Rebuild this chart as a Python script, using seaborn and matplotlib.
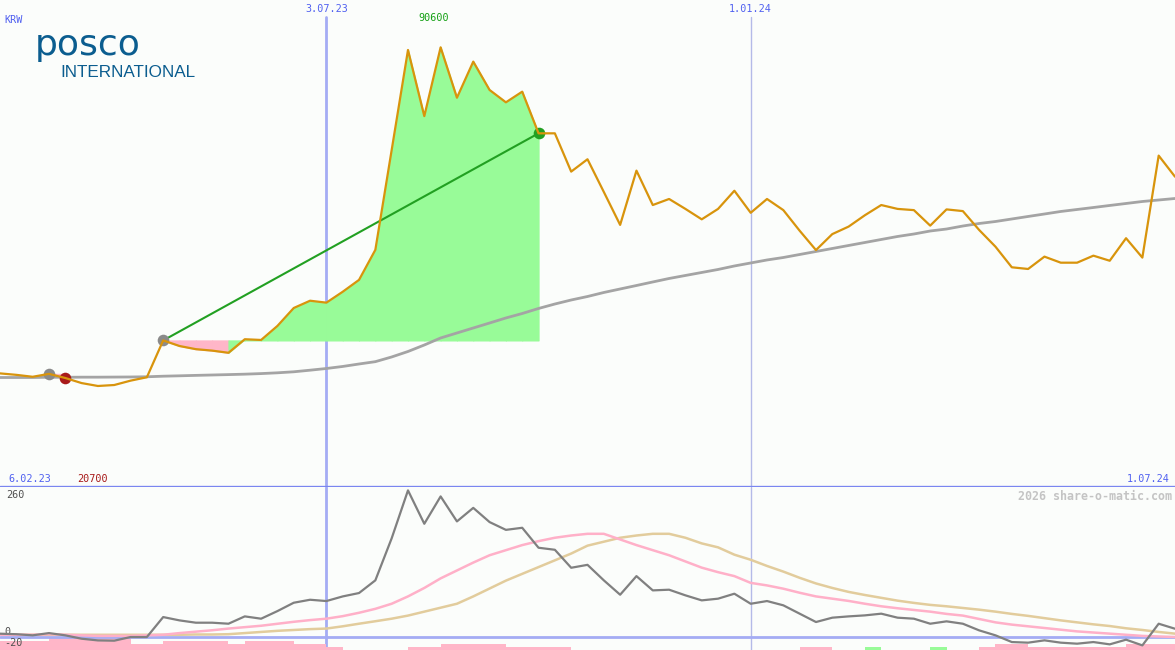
import numpy as np
import pandas as pd
import matplotlib
matplotlib.use("Agg")
import matplotlib.pyplot as plt
import seaborn as sns

# ---------------- data (weekly) ----------------
price = [23300, 23000, 22600, 23200, 22350, 21300, 20700, 20900, 21800, 22500,
         30100, 28950, 28300, 28000, 27550, 30350, 30200, 33100, 36800, 38300,
         37900, 40150, 42600, 48800, 69400, 90050, 76400, 90600, 80200, 87650,
         81800, 79250, 81450, 72850, 72850, 64950, 67500, 60750, 53950, 65150,
         58050, 59300, 57250, 55100, 57250, 61000, 56450, 59300, 57000, 52750,
         48750, 52050, 53600, 55950, 58050, 57250, 57000, 53800, 57150, 56800,
         52900, 49450, 45200, 44850, 47400, 46150, 46150, 47600, 46550, 51200,
         47200, 68250, 63900]

ma_long = [22450, 22450, 22450, 22500, 22500, 22520, 22520, 22540, 22560, 22600,
           22720, 22800, 22890, 22970, 23050, 23140, 23260, 23420, 23630, 23960,
           24310, 24730, 25240, 25720, 26690, 27820, 29160, 30610, 31640, 32670,
           33700, 34740, 35660, 36700, 37620, 38450, 39170, 40000, 40720, 41440,
           42170, 42890, 43510, 44130, 44750, 45470, 46090, 46710, 47220, 47840,
           48460, 49080, 49700, 50320, 50940, 51560, 52070, 52690, 53100, 53720,
           54240, 54650, 55170, 55690, 56200, 56720, 57130, 57540, 57960, 58370,
           58780, 59090, 59400]

osc = [5.9, 5, 3, 7, 3, -3, -6, -6.5, 0, 0,
       35.4, 29.5, 25.4, 25.4, 23.6, 36.6, 32.5, 46, 60.8, 66.1,
       63.8, 72, 78, 100.5, 175, 260, 200.8, 249.3, 205, 229,
       203.8, 190, 193.7, 158.3, 154.7, 122.8, 128, 100.5, 75, 108,
       82.7, 83.9, 73.9, 65, 68, 76.8, 59, 63.8, 56.2, 41.4,
       26.6, 34.3, 36.6, 38.4, 41.4, 34.3, 32.5, 23.6, 27.8, 23.6,
       11.8, 3, -8.9, -10, -5.9, -10, -11.8, -8.9, -13, -4.7,
       -14.8, 23.6, 14.7]

osc_fast = [4, 4, 4, 5, 4, 3, 2, 2, 2, 3,
            4, 7, 9.5, 12, 15, 17.5, 20, 23.5, 27, 30,
            32.5, 37, 43, 50, 59, 72, 87, 104, 118, 132,
            145, 154, 163, 170, 176, 180, 183, 183, 173, 163,
            154, 145, 134, 123, 115, 108, 96, 91.5, 85.7, 78.5,
            72, 68, 64, 59, 54.5, 51, 48, 45, 41, 38,
            32, 26, 22, 19, 16, 13, 10, 8, 6, 4,
            2, 1, 0]

osc_slow = [4, 4, 4, 4, 4, 4, 4, 4, 4, 4,
            4, 4, 4.5, 4.5, 5, 7, 9, 11, 12.5, 14,
            15, 19, 23.6, 28, 32.5, 38, 45, 52, 59, 72,
            86, 100, 112, 124, 136, 148, 162, 169, 176, 180,
            183, 183, 176, 166, 159, 146, 137, 126, 116, 105,
            95, 87, 80, 74.5, 69.5, 64.5, 60.5, 57, 54.5, 51.5,
            48.5, 45, 41, 37.5, 33.5, 29.5, 26, 22.5, 19.5, 15.5,
            12.5, 9, 6]

bar_level = [3, 3, 3, 4, 4, 4, 4, 4, 2, 2,
             3, 3, 3, 3, 2, 3, 3, 3, 2, 2,
             1, 0, 0, 0, 0, 1, 1, 2, 2, 2,
             2, 1, 1, 1, 1, 0, 0, 0, 0, 0,
             0, 0, 0, 0, 0, 0, 0, 0, 0, 1,
             1, 0, 0, 1, 0, 0, 0, 1, 0, 0,
             1, 2, 2, 1, 1, 1, 1, 1, 1, 2,
             2, 2]
bar_green_weeks = [53, 57]

date_labels = ["6.02.23", "3.07.23", "1.01.24", "1.07.24"]
date_pos = [0, 20, 46, 72]
grid_weeks = [20, 46]
entry_week, exit_week = 10, 33
prev_entry_week, prev_exit_week = 3, 4
currency = "KRW"
osc_labels = [260, 0, -20]
watermark = "2026 share-o-matic.com"

# ---------------- style ----------------
BG = "#fbfdfb"
ORANGE = "#d8940c"
MA_GRAY = "#a4a4a4"
FILL_GREEN = "#98fb98"
FILL_PINK = "#ffb6c8"
LINE_GREEN = "#22a022"
MARK_GRAY = "#8a8a8a"
MARK_RED = "#a81a1a"
BLUE_TXT = "#5060f0"
SEP_BLUE = "#7a86f0"
GRID_BLUE = "#a4acf4"
OSC_GRAY = "#808080"
OSC_PINK = "#ffb0c8"
OSC_TAN = "#e2cc9c"
LOGO_BLUE = "#0b5d8f"

sns.set_theme(style="white")
plt.rcParams["font.family"] = ["DejaVu Sans Mono", "DejaVu Sans"]

weeks = np.arange(len(price))
df = pd.DataFrame({"week": weeks, "price": price, "ma_long": ma_long,
                   "osc": osc, "osc_fast": osc_fast, "osc_slow": osc_slow})

W, H = 1175.0, 650.0
TOP_H, LOW_H = 487.0, 163.0
fig = plt.figure(figsize=(W / 100, H / 100), dpi=100, facecolor=BG)
ax1 = fig.add_axes([0, LOW_H / H, 1, TOP_H / H])
ax2 = fig.add_axes([0, 0, 1, LOW_H / H])

for ax in (ax1, ax2):
    ax.set_facecolor(BG)
    for s in ax.spines.values():
        s.set_visible(False)

ax1.set_ylim(-150, 100370)
ax2.set_ylim(-23, 266)

# ---------------- top panel ----------------
p = np.array(price, dtype=float)
level = p[entry_week]
for i in range(entry_week, exit_week):
    c = FILL_GREEN if p[i + 1] >= level else FILL_PINK
    ax1.fill_between(weeks[i:i + 2], p[i:i + 2], level, facecolor=c,
                     edgecolor=c, lw=0.8, zorder=1)
level0 = p[prev_entry_week]
for i in range(prev_entry_week, prev_exit_week):
    c = FILL_GREEN if p[i + 1] >= level0 else FILL_PINK
    ax1.fill_between(weeks[i:i + 2], p[i:i + 2], level0, facecolor=c,
                     edgecolor=c, lw=0.8, zorder=1)

for gw, lw, col in zip(grid_weeks, [2.0, 1.0], [GRID_BLUE, "#b4bae8"]):
    ax1.axvline(gw, ymin=0, ymax=1 - 17 / TOP_H, color=col, lw=lw, zorder=0.5)
    ax2.axvline(gw, color=col, lw=lw, zorder=0.5)

sns.lineplot(data=df, x="week", y="ma_long", ax=ax1, color=MA_GRAY, lw=2, zorder=2)

trade = pd.DataFrame({"week": [entry_week, exit_week],
                      "price": [p[entry_week], p[exit_week]]})
sns.lineplot(data=trade, x="week", y="price", ax=ax1, color=LINE_GREEN, lw=1.5, zorder=3)

sns.scatterplot(x=[prev_entry_week, entry_week], y=[p[prev_entry_week], p[entry_week]],
                ax=ax1, color=MARK_GRAY, s=70, linewidth=0, zorder=3)
sns.scatterplot(x=[prev_exit_week], y=[p[prev_exit_week]], ax=ax1, color=MARK_RED,
                s=70, linewidth=0, zorder=3)
sns.scatterplot(x=[exit_week], y=[p[exit_week]], ax=ax1, color=LINE_GREEN,
                s=70, linewidth=0, zorder=3)

sns.lineplot(data=df, x="week", y="price", ax=ax1, color=ORANGE, lw=1.6, zorder=4)

# separator line between panels
ax1.axhline(ax1.get_ylim()[0], color=SEP_BLUE, lw=2.4, zorder=6, clip_on=False)

# ---------------- lower panel ----------------
unit = 5.6
bottom = ax2.get_ylim()[0]
lv = np.array(bar_level, dtype=float)
bar_cols = [FILL_GREEN if i in bar_green_weeks else FILL_PINK for i in range(len(lv))]
ax2.bar(weeks[:len(lv)], lv * unit, width=1.0, align="edge", bottom=bottom,
        color=bar_cols, lw=0, zorder=1)
ax2.axhline(0, color=GRID_BLUE, lw=2, zorder=1.5)

sns.lineplot(data=df, x="week", y="osc_slow", ax=ax2, color=OSC_TAN, lw=1.8, zorder=2)
sns.lineplot(data=df, x="week", y="osc_fast", ax=ax2, color=OSC_PINK, lw=1.8, zorder=3)
sns.lineplot(data=df, x="week", y="osc", ax=ax2, color=OSC_GRAY, lw=1.6, zorder=4)

for ax in (ax1, ax2):
    ax.set_xlim(0, len(price) - 1)
    ax.set_xticks([])
    ax.set_yticks([])
    ax.set_xlabel("")
    ax.set_ylabel("")

# ---------------- texts ----------------
FS = 7.3
xt1 = ax1.get_xaxis_transform()
ax1.text(0.004, 1 - 20 / TOP_H, currency, transform=ax1.transAxes, fontsize=FS,
         color=BLUE_TXT, ha="left", va="center")
for lab, pos in zip(date_labels[1:3], date_pos[1:3]):
    ax1.text(pos, 1 - 9 / TOP_H, lab, transform=xt1, fontsize=FS, color=BLUE_TXT,
             ha="center", va="center")
ax1.annotate(date_labels[0], xy=(date_pos[0], 8 / TOP_H), xycoords=xt1,
             xytext=(6, 0), textcoords="offset points", fontsize=FS, color=BLUE_TXT,
             ha="left", va="center")
ax1.annotate(date_labels[-1], xy=(date_pos[-1], 8 / TOP_H), xycoords=xt1,
             xytext=(-4, 0), textcoords="offset points", fontsize=FS, color=BLUE_TXT,
             ha="right", va="center")

imax = int(np.argmax(p))
imin = int(np.argmin(p))
ax1.annotate(f"{int(p[imax])}", xy=(imax, 1 - 18 / TOP_H), xycoords=xt1,
             xytext=(-5, 0), textcoords="offset points", fontsize=FS,
             color="#14a014", ha="center", va="center")
ax1.annotate(f"{int(p[imin])}", xy=(imin, 8 / TOP_H), xycoords=xt1,
             xytext=(-4, 0), textcoords="offset points", fontsize=FS,
             color=MARK_RED, ha="center", va="center")

# logo
ax1.text(35 / W, 1 - 55 / TOP_H, "posco", transform=ax1.transAxes,
         fontsize=26, color=LOGO_BLUE, family="DejaVu Sans", ha="left",
         va="baseline")
ax1.text(60 / W, 1 - 77 / TOP_H, "INTERNATIONAL", transform=ax1.transAxes,
         fontsize=12.3, color=LOGO_BLUE, family="Liberation Sans", ha="left",
         va="baseline")

# oscillator labels
xt2 = ax2.get_yaxis_transform()
ax2.text(0.005, osc_labels[0], str(osc_labels[0]), transform=xt2, fontsize=FS,
         color="#505050", ha="left", va="top")
for v in osc_labels[1:]:
    ax2.text(0.004, v, str(v), transform=xt2, fontsize=FS, color="#505050",
             ha="left", va="bottom")
ax2.text(0.9975, 1 - 9 / LOW_H, watermark, transform=ax2.transAxes, fontsize=8.4,
         fontweight="bold", color="#c4c4c4", ha="right", va="center")

fig.savefig("out.png", dpi=100, facecolor=BG)
